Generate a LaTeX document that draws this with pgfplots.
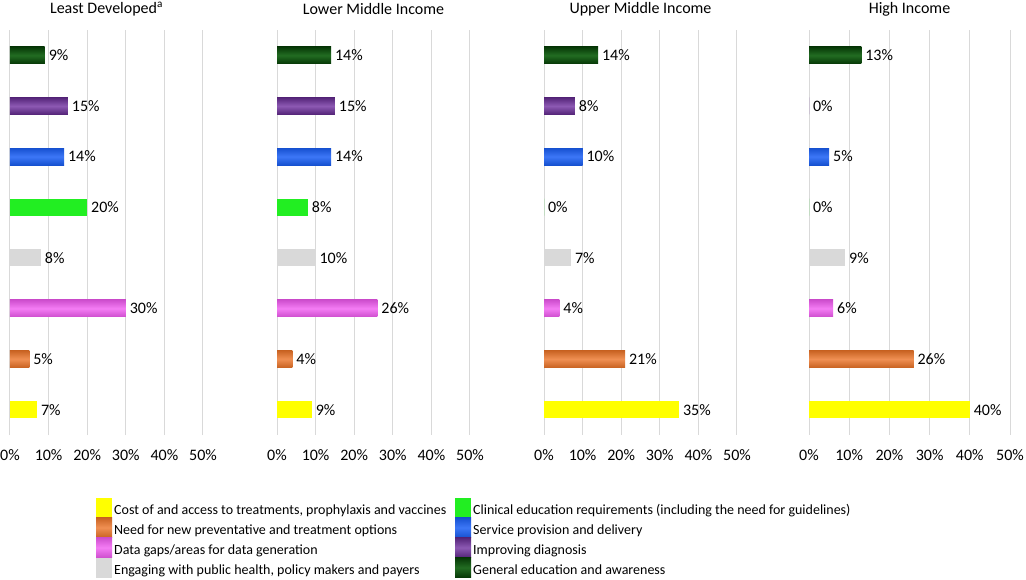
\documentclass[border=0pt]{standalone}
\usepackage{pgfplots}
\pgfplotsset{compat=1.18}
\usepackage{fontspec}
\setmainfont{Carlito}
\definecolor{cYellow}{HTML}{FFFF00}
\definecolor{cOrange}{HTML}{EC7428}
\definecolor{cMagenta}{HTML}{F25CF2}
\definecolor{cGray}{HTML}{D9D9D9}
\definecolor{cGreenL}{HTML}{22EE22}
\definecolor{cBlue}{HTML}{1A5FF5}
\definecolor{cPurple}{HTML}{7030A0}
\definecolor{cGreenD}{HTML}{0A5C0A}
\definecolor{cGrid}{HTML}{D9D9D9}
\newcommand\fs{\fontsize{14}{16}\selectfont}
\newcommand\fl{\fontsize{16}{18}\selectfont}
\tikzset{
 shOrange/.style={top color=cOrange!85!black, bottom color=cOrange!85!black, middle color=cOrange!80!white},
 shMagenta/.style={top color=cMagenta!85!black, bottom color=cMagenta!85!black, middle color=cMagenta!80!white},
 shBlue/.style={top color=cBlue!85!black, bottom color=cBlue!85!black, middle color=cBlue!85!white},
 shPurple/.style={top color=cPurple!75!black, bottom color=cPurple!75!black, middle color=cPurple!80!white},
 shGreenD/.style={top color=cGreenD!60!black, bottom color=cGreenD!60!black, middle color=cGreenD!90!white},
}
% args: cost, need, data, engaging, clinical, service, improving, general
\newcommand\panelbars[8]{%
 \addplot[fill=cYellow] coordinates {(#1,1)};
 \addplot[fill=cGreenL] coordinates {(#5,5)};
 \addplot[fill=cOrange, shOrange] coordinates {(#2,2)};
 \addplot[fill=cBlue, shBlue] coordinates {(#6,6)};
 \addplot[fill=cMagenta, shMagenta] coordinates {(#3,3)};
 \addplot[fill=cPurple, shPurple] coordinates {(#7,7)};
 \addplot[fill=cGray] coordinates {(#4,4)};
 \addplot[fill=cGreenD, shGreenD] coordinates {(#8,8)};
}
\pgfplotsset{
 panel/.style={
  xbar, bar width=17pt, bar shift=0pt,
  scale only axis, height=405pt, width=193pt,
  xmin=0, xmax=50, ymin=0.5, ymax=8.5,
  xtick={0,10,...,50},
  xticklabel={\pgfmathprintnumber{\tick}\%},
  /pgf/number format/assume math mode=true,
  ytick=\empty,
  axis line style={draw=none},
  major tick length=0pt,
  xmajorgrids, grid style={cGrid, line width=1pt},
  tick label style={font=\fl, text=black},
  xticklabel style={yshift=-11pt},
  title style={font=\fl, at={(0.5,1)}, anchor=center, yshift=15pt},
  nodes near coords={\pgfmathprintnumber{\pgfplotspointmeta}\%},
  point meta=x,
  nodes near coords style={font=\fl, anchor=west, xshift=0.5pt, text=black},
  every axis plot/.append style={draw=none},
  anchor=south west,
  legend image code/.code={\fill[##1] (0pt,-7.5pt) rectangle (16pt,12.5pt);},
 }
}
\begin{document}
\begin{tikzpicture}
\useasboundingbox (0,0) rectangle (1026pt,579pt);
\begin{axis}[panel, at={(10pt,144pt)}, title={Least Developed\textsuperscript{a}},
  legend columns=2,
  legend cell align=left,
  legend style={draw=none, fill=none, at={(axis description cs:0.4456,-0.154)}, anchor=north west,
    column sep=2pt, row sep=0pt, inner sep=0pt, nodes={inner sep=0pt, font=\fs}},
  legend entries={
   {\makebox[339pt][l]{Cost of and access to treatments, prophylaxis and vaccines}},
   {Clinical education requirements (including the need for guidelines)},
   {\makebox[339pt][l]{Need for new preventative and treatment options}},
   {Service provision and delivery},
   {\makebox[339pt][l]{Data gaps/areas for data generation}},
   {Improving diagnosis},
   {\makebox[339pt][l]{Engaging with public health, policy makers and payers}},
   {General education and awareness}
  }]
\panelbars{7}{5}{30}{8}{20}{14}{15}{9}
\end{axis}
\begin{axis}[panel, at={(277pt,144pt)}, title={Lower Middle Income}]
\panelbars{9}{4}{26}{10}{8}{14}{15}{14}
\end{axis}
\begin{axis}[panel, at={(544pt,144pt)}, title={Upper Middle Income}]
\panelbars{35}{21}{4}{7}{0}{10}{8}{14}
\end{axis}
\begin{axis}[panel, at={(809pt,144pt)}, width=201pt, title={High Income}]
\panelbars{40}{26}{6}{9}{0}{5}{0}{13}
\end{axis}
\end{tikzpicture}
\end{document}
